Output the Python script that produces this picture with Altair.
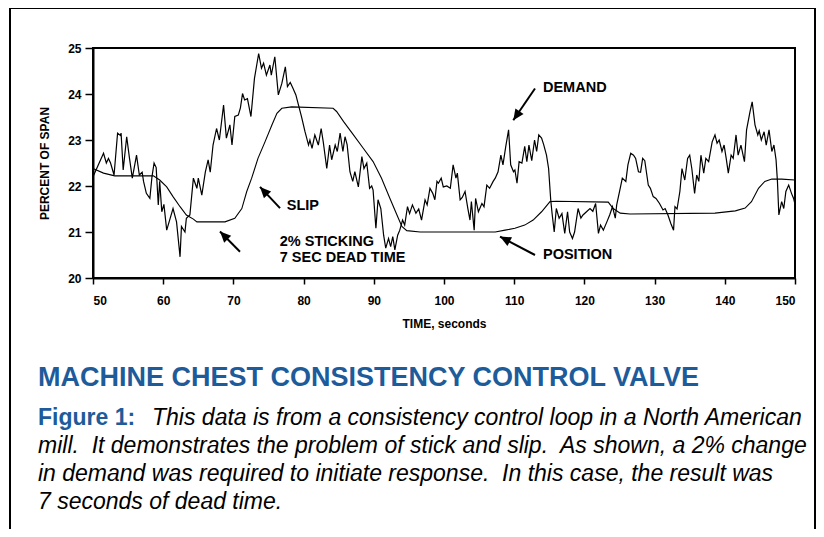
import math
import altair as alt
import pandas as pd

# ---------------- data ----------------
demand_t = [50.0, 51.5, 51.9, 52.2, 52.5, 53.0, 53.5, 53.9, 54.0, 54.3, 54.8, 55.2, 55.6, 56.2, 56.6,
            57.0, 57.2, 57.6, 58.1, 58.4, 58.7, 59.0, 59.3, 59.5, 59.8, 60.1, 60.5, 61.0, 61.4, 61.9,
            62.4, 62.6, 63.1, 63.3, 63.8, 64.3, 64.8, 65.0, 65.5, 66.0, 66.4, 66.7, 67.1, 67.6, 68.0,
            68.6, 69.0, 69.5, 69.8, 70.2, 70.7, 71.0, 71.3, 71.6, 72.0, 72.5, 73.0, 73.6, 74.0, 74.3,
            74.7, 75.2, 75.4, 75.9, 76.4, 76.9, 77.4, 77.7, 78.1, 78.5, 78.9, 79.2, 79.7, 80.2, 80.7,
            80.9, 81.2, 81.6, 82.1, 82.5, 82.8, 83.3, 83.7, 84.0, 84.5, 84.8, 85.2, 85.6, 85.9, 86.2,
            86.6, 87.0, 87.3, 87.8, 88.3, 88.6, 89.0, 89.4, 89.7, 89.9, 90.3, 90.6, 91.0, 91.4, 91.7,
            92.1, 92.4, 92.7, 93.0, 93.4, 93.7, 94.1, 94.4, 94.8, 95.1, 95.5, 96.0, 96.4, 96.8, 97.3,
            97.6, 98.0, 98.4, 98.7, 99.0, 99.2, 99.6, 99.9, 100.4, 100.9, 101.3, 101.7, 101.9, 102.3,
            102.6, 103.0, 103.4, 103.7, 103.9, 104.3, 104.5, 104.9, 105.4, 105.7, 106.1, 106.5, 107.0,
            107.3, 107.7, 108.1, 108.4, 108.8, 109.2, 109.5, 109.9, 110.1, 110.4, 110.7, 111.1, 111.5,
            111.8, 112.1, 112.5, 112.9, 113.2, 113.5, 113.9, 114.2, 114.6, 114.9, 115.2, 115.4, 115.7,
            116.0, 116.4, 116.8, 117.2, 117.6, 117.9, 118.3, 118.6, 119.1, 119.5, 119.8, 120.3, 120.8,
            121.2, 121.6, 122.0, 122.3, 122.7, 123.2, 123.6, 124.0, 124.4, 124.6, 125.1, 125.4, 125.9,
            126.2, 126.6, 127.0, 127.3, 127.7, 128.0, 128.3, 128.6, 129.1, 129.4, 129.8, 130.2, 130.7,
            131.2, 131.5, 131.9, 132.3, 132.7, 132.9, 133.2, 133.6, 133.9, 134.3, 134.7, 135.0, 135.3,
            135.7, 136.0, 136.3, 136.6, 137.0, 137.3, 137.7, 138.2, 138.6, 138.9, 139.2, 139.6, 139.9,
            140.2, 140.5, 140.9, 141.2, 141.6, 141.9, 142.3, 142.8, 143.1, 143.6, 143.9, 144.3, 144.7,
            144.9, 145.2, 145.6, 145.9, 146.3, 146.7, 147.0, 147.3, 147.5, 147.7, 148.1, 148.4, 148.7,
            149.1, 149.5, 149.8, 150.0]
demand_v = [22.2, 22.71, 22.5, 22.6, 22.5, 22.24, 23.15, 23.1, 23.15, 22.35, 23.07, 22.6, 22.17, 22.67, 22.24,
            22.3, 22.1, 21.84, 21.73, 22.2, 22.5, 22.4, 21.59, 22.1, 21.44, 21.6, 21.04, 21.3, 21.51, 21.22,
            20.46, 21.12, 21.0, 21.3, 21.37, 22.17, 21.95, 22.17, 21.8, 22.3, 22.57, 22.3, 22.89, 23.25, 23.0,
            23.76, 23.04, 23.33, 22.89, 23.51, 23.54, 23.7, 24.01, 23.87, 23.9, 23.51, 24.34, 24.88, 24.56, 24.67,
            24.41, 24.63, 24.41, 24.81, 23.98, 24.23, 24.59, 24.16, 24.25, 24.12, 23.98, 23.8, 23.51, 23.18, 22.89,
            23.0, 22.82, 23.11, 22.89, 23.25, 22.96, 22.38, 22.89, 22.57, 22.89, 22.75, 23.15, 22.75, 23.07, 22.9,
            22.31, 22.1, 22.31, 21.98, 22.64, 22.38, 22.5, 21.95, 22.0, 21.91, 21.08, 21.7, 21.51, 20.93, 20.65,
            20.86, 20.68, 20.9, 20.61, 20.93, 21.04, 21.26, 21.15, 21.55, 21.4, 21.59, 21.41, 21.5, 21.26, 21.7,
            21.59, 21.95, 21.84, 21.7, 22.1, 22.06, 22.17, 21.98, 22.0, 21.95, 22.46, 22.17, 22.28, 21.7,
            21.75, 21.88, 21.51, 21.26, 21.66, 21.04, 21.73, 21.44, 21.62, 21.55, 22.02, 21.95, 22.1,
            22.17, 22.31, 22.67, 22.46, 22.86, 23.22, 22.46, 22.31, 22.35, 22.06, 22.53, 22.5, 22.86,
            22.53, 22.89, 22.55, 23.0, 22.75, 23.11, 23.04, 22.9, 22.67, 22.38, 21.7, 21.4, 21.0,
            21.51, 21.3, 21.4, 20.97, 21.44, 21.0, 20.86, 21.0, 21.51, 21.3, 21.37, 21.44, 21.51,
            21.45, 21.62, 20.97, 21.15, 21.04, 21.22, 21.37, 21.55, 21.3, 21.59, 21.95, 22.17, 22.1,
            22.46, 22.71, 22.67, 22.6, 22.31, 22.3, 22.6, 22.55, 22.02, 21.95, 21.77, 21.73, 21.62,
            21.48, 21.51, 21.37, 21.19, 21.04, 21.55, 21.5, 21.88, 22.38, 22.13, 22.6, 22.67, 22.38,
            21.84, 22.24, 22.1, 22.67, 22.28, 22.6, 22.53, 22.96, 23.11, 22.93, 23.0, 22.75, 22.89,
            22.6, 22.28, 22.67, 22.6, 23.11, 22.67, 22.89, 22.53, 23.22, 23.62, 23.83, 23.33, 23.11,
            23.2, 23.0, 23.18, 22.89, 23.22, 22.75, 22.89, 22.57, 22.1, 21.37, 21.66, 21.51, 21.88,
            22.02, 21.84, 21.73, 21.6]

position_t = [50.0, 51.5, 53.1, 58.6, 59.5, 60.5, 61.4, 62.4, 63.3, 64.3, 64.8, 68.8, 70.2, 71.2, 71.9,
              72.6, 73.5, 74.5, 75.5, 76.2, 76.9, 78.3, 84.2, 84.7, 85.7, 87.1, 88.5, 89.9, 91.1, 92.3,
              93.3, 94.0, 94.7, 96.6, 107.3, 108.7, 110.1, 111.5, 112.7, 113.9, 115.1, 116.0, 123.4,
              124.1, 125.1, 126.5, 138.6, 141.5, 142.9, 143.8, 144.8, 145.7, 146.7, 148.1, 150.0]
position_v = [22.38, 22.28, 22.22, 22.22, 22.13, 21.98, 21.77, 21.55, 21.37, 21.28, 21.22, 21.22, 21.3, 21.51, 21.88,
              22.17, 22.6, 22.96, 23.33, 23.58, 23.69, 23.72, 23.69, 23.62, 23.4, 23.11, 22.82, 22.53, 22.17, 21.73,
              21.37, 21.12, 21.03, 21.0, 21.0, 21.04, 21.08, 21.15, 21.26, 21.44, 21.66, 21.67, 21.65,
              21.51, 21.41, 21.39, 21.41, 21.46, 21.52, 21.66, 21.95, 22.1, 22.15, 22.15, 22.13]

x_ticks = [50, 60, 70, 80, 90, 100, 110, 120, 130, 140, 150]
y_ticks = [20, 21, 22, 23, 24, 25]

label_text = ["DEMAND", "SLIP", "2% STICKING", "7 SEC DEAD TIME", "POSITION"]
label_t = [114.1, 77.6, 76.6, 76.6, 114.1]
label_v = [24.13, 21.57, 20.78, 20.43, 20.50]

arrow_t1 = [112.96, 76.64, 70.94, 112.96]
arrow_v1 = [24.12, 21.52, 20.57, 20.50]
arrow_t2 = [109.87, 73.79, 68.09, 107.98]
arrow_v2 = [23.43, 21.98, 21.01, 20.90]

x_title = "TIME, seconds"
y_title = "PERCENT OF SPAN"
title_text = "MACHINE CHEST CONSISTENCY CONTROL VALVE"
caption_lead = "Figure 1:"
caption_lines = [
    "This data is from a consistency control loop in a North American",
    "mill.\u00a0 It demonstrates the problem of stick and slip.\u00a0 As shown, a 2% change",
    "in demand was required to initiate response.\u00a0 In this case, the result was",
    "7 seconds of dead time.",
]

# ---------------- chart ----------------
W, H = 702, 230
FONT = "Liberation Sans"
BLUE = "#1d5b9b"

xs = alt.Scale(domain=[50, 150], nice=False, zero=False)
ys = alt.Scale(domain=[20, 25], nice=False, zero=False)
x_axis = alt.Axis(values=x_ticks, tickSize=6, labelPadding=11, titlePadding=12)
y_axis = alt.Axis(values=y_ticks, tickSize=8, labelPadding=4, titlePadding=16)


def X(field):
    return alt.X(field, scale=xs, title=x_title, axis=x_axis)


def Y(field):
    return alt.Y(field, scale=ys, title=y_title, axis=y_axis)


# arrow head rotation, from the arrow direction on screen
angles = []
for a, b, c, d in zip(arrow_t1, arrow_v1, arrow_t2, arrow_v2):
    dx = (c - a) * W / 100.0
    dy = -(d - b) * H / 5.0
    angles.append(math.degrees(math.atan2(dx, -dy)) % 360)

df_d = pd.DataFrame({"t": demand_t, "v": demand_v})
df_p = pd.DataFrame({"t": position_t, "v": position_v})
df_a = pd.DataFrame({"t1": arrow_t1, "v1": arrow_v1, "t2": arrow_t2, "v2": arrow_v2, "ang": angles})
df_l = pd.DataFrame({"t": label_t, "v": label_v, "txt": label_text})

demand = alt.Chart(df_d).mark_line(color="black", strokeWidth=1.2).encode(
    x=X("t:Q"), y=Y("v:Q"), order="t:Q",
)

position = alt.Chart(df_p).mark_line(color="black", strokeWidth=1.1).encode(
    x=X("t:Q"), y=Y("v:Q"), order="t:Q",
)

shafts = alt.Chart(df_a).mark_rule(color="black", strokeWidth=2).encode(
    x=X("t1:Q"), y=Y("v1:Q"), x2="t2:Q", y2="v2:Q",
)

heads = alt.Chart(df_a).mark_point(
    shape="M0,0L-0.45,1L0.45,1Z", filled=True, color="black", opacity=1, size=480
).encode(
    x=X("t2:Q"), y=Y("v2:Q"), angle=alt.Angle("ang:Q", scale=None),
)

labels = alt.Chart(df_l).mark_text(
    align="left", baseline="middle", font=FONT, fontWeight="bold", fontSize=14.5, color="black"
).encode(
    x=X("t:Q"), y=Y("v:Q"), text="txt:N",
)

border = alt.Chart(pd.DataFrame({"k": [0]})).mark_rect(
    fillOpacity=0, stroke="black", strokeWidth=2
).encode(x=alt.value(-83), x2=alt.value(722), y=alt.value(-40), y2=alt.value(560))

title = alt.Chart(pd.DataFrame({"s": [title_text]})).mark_text(
    align="left", baseline="middle", font=FONT, fontWeight="bold", fontSize=27, color=BLUE
).encode(x=alt.value(-55), y=alt.value(330), text="s:N")

lead = alt.Chart(pd.DataFrame({"s": [caption_lead]})).mark_text(
    align="left", baseline="middle", font=FONT, fontWeight="bold", fontSize=23, color=BLUE
).encode(x=alt.value(-55), y=alt.value(370), text="s:N")

cap_layers = []
for i, line in enumerate(caption_lines):
    xpos = 59 if i == 0 else -55
    cap_layers.append(
        alt.Chart(pd.DataFrame({"s": [line]})).mark_text(
            align="left", baseline="middle", font=FONT, fontStyle="italic", fontSize=23.0, color="black"
        ).encode(x=alt.value(xpos), y=alt.value(370 + 28 * i), text="s:N")
    )

chart = alt.layer(
    border, position, demand, shafts, heads, labels, title, lead, *cap_layers
).properties(
    width=W, height=H,
    autosize=alt.AutoSizeParams(type="none"),
    padding={"left": 85, "top": 40, "right": 21, "bottom": 251},
    background="white",
).configure_view(
    stroke="black", strokeWidth=2
).configure_axis(
    domainColor="black", domainWidth=2, tickColor="black", tickWidth=1.5,
    labelFont=FONT, labelFontWeight="bold", labelFontSize=12, labelColor="black",
    titleFont=FONT, titleFontWeight="bold", titleFontSize=12, titleColor="black",
    grid=False,
)

chart.save("out.html", embed_options={"renderer": "svg", "actions": False})
